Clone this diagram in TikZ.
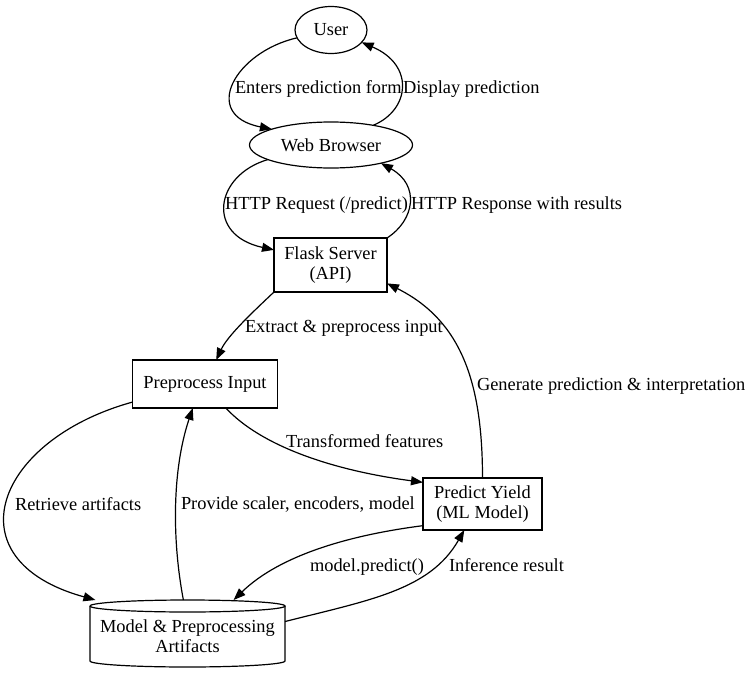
\documentclass[tikz,border=0pt]{standalone}
\usepackage{fontspec}
\setmainfont{Liberation Serif}
\usetikzlibrary{arrows.meta,shapes.geometric}
\begin{document}
\begin{tikzpicture}[x=1pt,y=-1pt,
  font=\fontsize{18.4}{20.5}\selectfont,
  every node/.style={inner sep=0pt, outer sep=0pt},
  ellnode/.style={draw, ellipse, line width=1.2pt},
  boxnode/.style={draw, rectangle, line width=1.2pt, align=center},
  lbl/.style={anchor=west, text height=12.8pt, text depth=4pt},
  conn/.style={line width=1.2pt, -{Triangle[length=12pt,width=9pt]}}]
\path[use as bounding box, fill=white] (0,0) rectangle (747,677);

% nodes
\node[ellnode, minimum width=72pt, minimum height=47pt] (user) at (331,30) {User};
\node[ellnode, minimum width=163pt, minimum height=46pt] (web) at (331,145) {Web Browser};
\node[boxnode, minimum width=113pt, minimum height=54pt] (flask) at (330.5,265) {Flask Server\\(API)};
\node[boxnode, minimum width=145pt, minimum height=48pt] (pre) at (205,384) {Preprocess Input};
\node[boxnode, minimum width=119pt, minimum height=52pt] (pred) at (482.5,504) {Predict Yield\\(ML Model)};
\node[minimum width=195pt, minimum height=67pt] (art) at (187.5,633.5) {};
\node[align=center] (arttext) at (187.5,636) {Model \& Preprocessing\\Artifacts};
% cylinder outline
\draw[line width=1.2pt] (90,606) arc[start angle=180, end angle=-180, x radius=97.5, y radius=6];
\draw[line width=1.2pt] (90,606) -- (90,661) arc[start angle=180, end angle=0, x radius=97.5, y radius=6] -- (285,606);

% connectors
\draw[conn] (user.193) .. controls (235,52) and (200,115) .. (web.165);
\draw[conn] (web.25) .. controls (410,110) and (415,65) .. (user.-22);
\draw[conn] (web.193) .. controls (215,175) and (205,235) .. (flask.165);
\draw[conn] (flask.north east) .. controls (415,220) and (420,185) .. (web.-20);
\draw[conn] (flask.south west) .. controls (255,310) and (228,335) .. (pre.65);
\draw[conn] (pred.north) .. controls (482.5,380) and (460,320) .. (flask.-18);
\draw[conn] (pre.-49) .. controls (260,445) and (330,470) .. (pred.160);
\draw[conn] (pre.194) .. controls (-5,440) and (-50,560) .. (art.160);
\draw[conn] (art.97) .. controls (172,540) and (172,470) .. (pre.243);
\draw[conn] (pred.200) .. controls (350,535) and (280,555) .. (art.36);
\draw[conn] (art.7) .. controls (370,600) and (430,590) .. (pred.235);

% labels
\node[lbl] (l1) at (235,89) {Enters prediction form};
\node[lbl] (l2) at (403,89) {Display prediction};
\node[lbl] (l3) at (225,205) {HTTP Request (/predict)};
\node[lbl] (l4) at (411,205) {HTTP Response with results};
\node[lbl] (l5) at (245,328) {Extract \& preprocess input};
\node[lbl] (l6) at (477,386) {Generate prediction \& interpretation};
\node[lbl] (l7) at (286,443) {Transformed features};
\node[lbl] (l8) at (15,506) {Retrieve artifacts};
\node[lbl] (l9) at (181,505) {Provide scaler, encoders, model};
\node[lbl] (l10) at (310,567) {model.predict()};
\node[lbl] (l11) at (449,567) {Inference result};
\end{tikzpicture}
\end{document}
